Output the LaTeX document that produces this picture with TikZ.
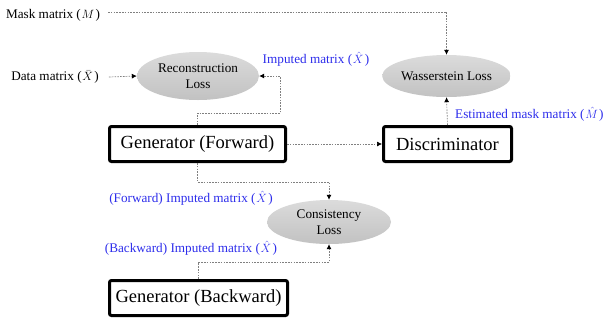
\documentclass[tikz,border=0pt]{standalone}
\usepackage{fontspec}
\setmainfont{Liberation Serif}
\usetikzlibrary{arrows.meta,shapes.geometric}
\definecolor{labelblue}{RGB}{45,45,235}
% matrix symbol in parentheses, with a little air around it
\newcommand{\mtx}[1]{($\mkern1mu#1\mkern2mu$)}
\tikzset{
  x=1pt, y=-1pt,
  txt/.style={font=\fontsize{13.2}{15}\selectfont, inner sep=0pt},
  bluetxt/.style={txt, text=labelblue},
  lossnode/.style={ellipse, minimum width=#1, minimum height=44pt, inner sep=0pt,
    top color=gray!28, bottom color=gray!48, draw=none, align=center,
    font=\fontsize{13.2}{15.5}\selectfont},
  netbox/.style={draw=black, line width=3pt, rounded corners=2pt, fill=white,
    minimum height=35pt, inner sep=0pt, font=\fontsize{18.5}{21}\selectfont},
  link/.style={draw=gray, line width=0.7pt, dash pattern=on 1.6pt off 1.2pt,
    -{Latex[black,length=5pt,width=5pt]}},
}
\begin{document}
\begin{tikzpicture}
\useasboundingbox (0,0) rectangle (607,322);

% loss terms
\node[lossnode=122pt, minimum height=48pt] (recon) at (198,76) {Reconstruction\\Loss};
\node[lossnode=123pt, minimum height=42pt] (wass) at (446.5,76) {Wasserstein Loss};
\node[lossnode=124pt] (cons) at (329,222) {Consistency\\Loss};

% networks
\node[netbox, minimum width=176pt] (genf) at (197.5,144) {Generator (Forward)};
\node[netbox, minimum width=128pt] (disc) at (447.5,144) {Discriminator};
\node[netbox, minimum width=178pt] (genb) at (198.5,298) {Generator (Backward)};

% inputs
\node[txt] (mask) at (53,15) {Mask matrix \mtx{M}};
\node[txt] (data) at (55,77) {Data matrix \mtx{\bar{X}}};

% labels on the data flow
\node[bluetxt] (impl) at (316,59) {Imputed matrix \mtx{\hat{X}}};
\node[bluetxt, anchor=west] (estl) at (455,114) {Estimated mask matrix \mtx{\hat{M}}};
\node[bluetxt] (fwdl) at (191,198) {(Forward) Imputed matrix \mtx{\hat{X}}};
\node[bluetxt] (bwdl) at (191,248) {(Backward) Imputed matrix \mtx{\hat{X}}};

% turning points of the connectors
\coordinate (mk) at (108,12);
\coordinate (r1) at (197.5,113);
\coordinate (r2) at (280,113);
\coordinate (r3) at (280,76);
\coordinate (f1) at (197.5,182);
\coordinate (b1) at (198.5,262);

% connectors
\draw[link] (mk) -| (wass.north);
\draw[link] (data.east) ++(10,0) -- (recon.west);
\draw[link] (genf.north) -- (r1) -- (r2) -- (r3) -- (recon.east);
\draw[link] (genf.east) -- (disc.west);
\draw[link] (disc.north) -- (wass.south);
\draw[link] (genf.south) -- (f1) -| (cons.north);
\draw[link] (genb.north) -- (b1) -| (cons.south);
\end{tikzpicture}
\end{document}
